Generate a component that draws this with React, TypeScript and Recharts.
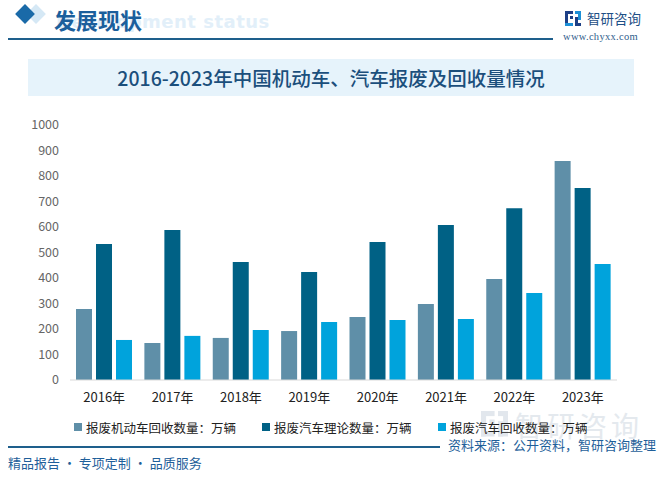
import React from "react";
import { BarChart, Bar, XAxis, YAxis } from "recharts";

const categories = ["2016年", "2017年", "2018年", "2019年", "2020年", "2021年", "2022年", "2023年"];
const motorRecycled = [278, 145, 165, 192, 247, 298, 396, 859];
const carTheory = [533, 588, 463, 424, 541, 608, 674, 753];
const carRecycled = [157, 173, 196, 227, 235, 239, 341, 455];
const yTicks = [0, 100, 200, 300, 400, 500, 600, 700, 800, 900, 1000];

const seriesNames = ["报废机动车回收数量：万辆", "报废汽车理论数量：万辆", "报废汽车回收数量：万辆"];
const seriesColors = ["#5f8fa8", "#006185", "#00a3dc"];

const data = categories.map((c, i) => ({
  name: c,
  a: motorRecycled[i],
  b: carTheory[i],
  c: carRecycled[i],
}));

const CJK = '"Noto Sans CJK SC", "Noto Sans", sans-serif';

const legendX = [74, 262, 438];

const Logo = ({ s = 1, color = "#1d3f86", color2 = "#1c8fd6" }: { s?: number; color?: string; color2?: string }) => (
  <svg width={16 * s} height={15 * s} viewBox="0 0 16 15">
    <rect x="0" y="0" width="8" height="3" fill={color} />
    <rect x="0" y="0" width="3" height="15" fill={color} />
    <rect x="5" y="5" width="3" height="3" fill={color} />
    <rect x="0" y="12" width="8" height="3" fill={color2} />
    <rect x="10" y="0" width="6" height="3" fill={color2} />
    <rect x="13" y="0" width="3" height="9" fill={color2} />
    <rect x="10" y="6" width="3" height="9" fill={color} />
    <rect x="10" y="12" width="6" height="3" fill={color} />
  </svg>
);

export default function App() {
  return (
    <div style={{ position: "absolute", left: 0, top: 0, width: 664, height: 478, background: "#fff", overflow: "hidden" }}>
      {/* header */}
      <div style={{ position: "absolute", left: 29, top: 7, width: 14, height: 14, background: "#d5e8f5", transform: "rotate(45deg)" }} />
      <div style={{ position: "absolute", left: 18, top: 7, width: 14, height: 14, background: "#1a6aa8", transform: "rotate(45deg)" }} />
      <div style={{ position: "absolute", left: 56, top: 11, fontFamily: '"DejaVu Sans", sans-serif', fontWeight: 700, fontSize: 18, color: "#e2eff9", whiteSpace: "nowrap", letterSpacing: 0.5 }}>
        Development status
      </div>
      <div style={{ position: "absolute", left: 54, top: 3, fontFamily: CJK, fontWeight: 700, fontSize: 22, color: "#1b5f9c", whiteSpace: "nowrap" }}>
        发展现状
      </div>
      <div style={{ position: "absolute", left: 8, top: 38, width: 545, height: 2, background: "#1e5f8c" }} />
      <div style={{ position: "absolute", left: 565, top: 11 }}>
        <Logo />
      </div>
      <div style={{ position: "absolute", left: 587, top: 8, fontFamily: CJK, fontSize: 13.5, color: "#1e4f86", whiteSpace: "nowrap" }}>
        智研咨询
      </div>
      <div style={{ position: "absolute", left: 563, top: 31, fontFamily: '"Liberation Serif", serif', fontSize: 10.5, color: "#2f5d8c", whiteSpace: "nowrap", letterSpacing: 0.3 }}>
        www.chyxx.com
      </div>

      {/* title band */}
      <div style={{ position: "absolute", left: 28, top: 59, width: 606, height: 37, background: "#e6f3fb" }} />
      <div style={{ position: "absolute", left: 28, top: 59, width: 606, height: 37, display: "flex", alignItems: "center", justifyContent: "center", fontFamily: CJK, fontSize: 19.5, fontWeight: 500, color: "#1b4f7c", whiteSpace: "nowrap" }}>
        2016-2023年中国机动车、汽车报废及回收量情况
      </div>

      {/* watermark bottom right */}
      <div style={{ position: "absolute", left: 481, top: 411 }}>
        <Logo s={1.7} color="#e2e7ed" color2="#e2e7ed" />
      </div>
      <div style={{ position: "absolute", left: 515, top: 406, fontFamily: CJK, fontSize: 28, lineHeight: "38px", color: "#e4e9ee", whiteSpace: "nowrap", letterSpacing: 4 }}>
        智研咨询
      </div>

      <div style={{ position: "absolute", left: 0, top: 0 }}>
        <BarChart
          width={664}
          height={478}
          data={data}
          margin={{ top: 125, right: 47, bottom: 68, left: 10 }}
          barSize={16}
          barGap={4}
        >
          <XAxis
            dataKey="name"
            axisLine={{ stroke: "#d9d9d9", strokeWidth: 1 }}
            tickLine={false}
            tickMargin={7}
            tick={{ fontSize: 13, fill: "#222", fontFamily: CJK }}
            interval={0}
          />
          <YAxis
            width={60}
            domain={[0, 1000]}
            ticks={yTicks}
            axisLine={false}
            tickLine={false}
            tickMargin={5}
            tick={{ fontSize: 12.5, fill: "#666", fontFamily: CJK }}
            interval={0}
          />
          <Bar dataKey="a" name={seriesNames[0]} fill={seriesColors[0]} isAnimationActive={false} />
          <Bar dataKey="b" name={seriesNames[1]} fill={seriesColors[1]} isAnimationActive={false} />
          <Bar dataKey="c" name={seriesNames[2]} fill={seriesColors[2]} isAnimationActive={false} />
        </BarChart>
      </div>

      {/* legend */}
      {seriesNames.map((name, i) => (
        <div key={name} style={{ position: "absolute", left: legendX[i], top: 417, display: "flex", alignItems: "center", height: 20 }}>
          <span style={{ width: 8, height: 8, background: seriesColors[i], display: "inline-block", marginRight: 4 }} />
          <span style={{ fontFamily: CJK, fontSize: 12.5, color: "#222", whiteSpace: "nowrap" }}>{name}</span>
        </div>
      ))}

      {/* footer */}
      <div style={{ position: "absolute", left: 8, top: 446, width: 432, height: 1.5, background: "#1e5f8c" }} />
      <div style={{ position: "absolute", right: 8, top: 435, fontFamily: CJK, fontSize: 13, color: "#1f5f9a", whiteSpace: "nowrap" }}>
        资料来源：公开资料，智研咨询整理
      </div>
      <div style={{ position: "absolute", left: 8, top: 453, fontFamily: CJK, fontSize: 13, color: "#1f5f9a", whiteSpace: "nowrap" }}>
        精品报告 · 专项定制 · 品质服务
      </div>
    </div>
  );
}
